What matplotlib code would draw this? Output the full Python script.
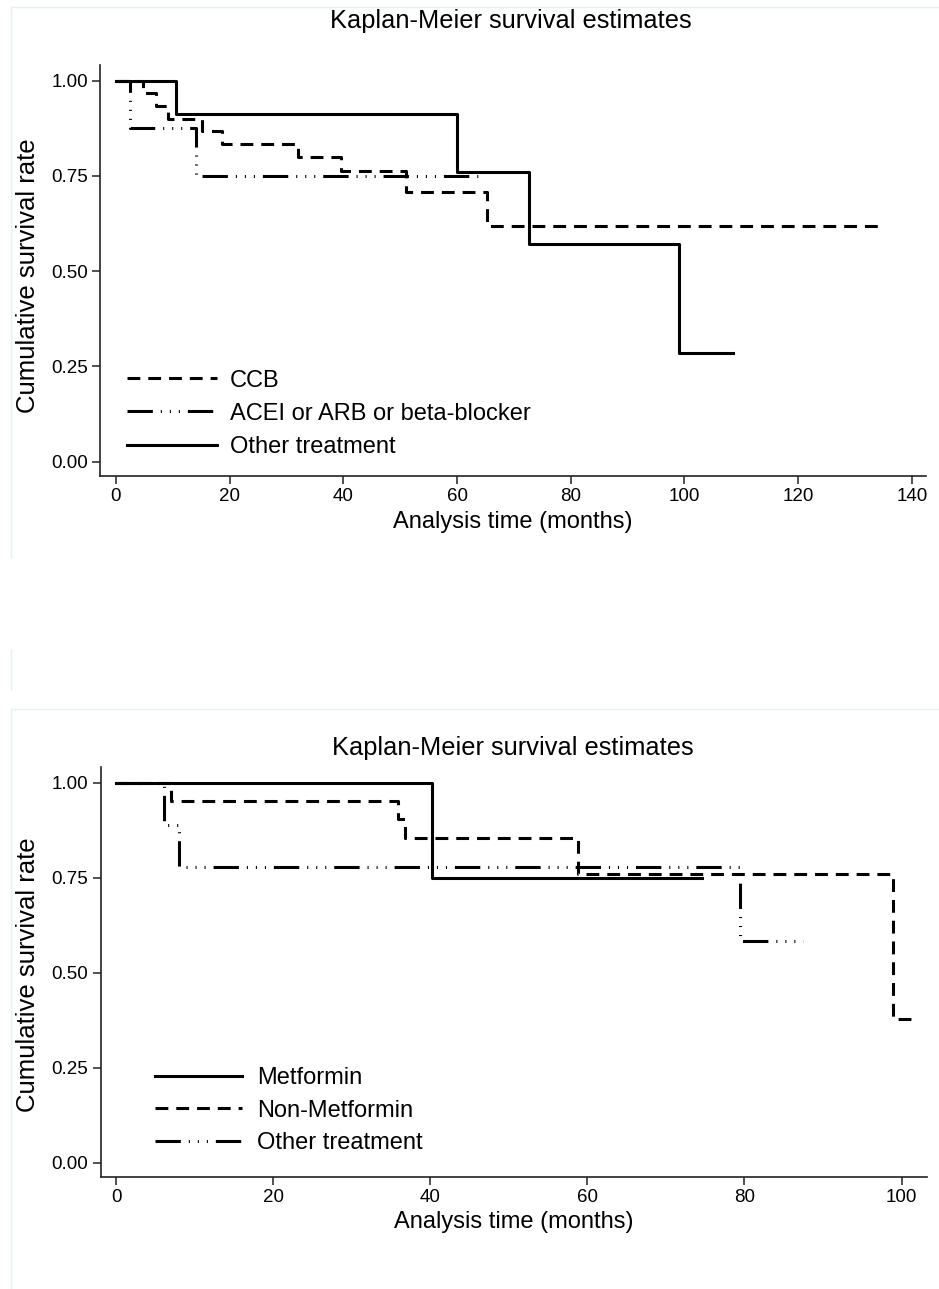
import matplotlib
matplotlib.use("Agg")
import matplotlib.pyplot as plt
from matplotlib.lines import Line2D

plt.rcParams['font.family'] = ['Liberation Sans', 'DejaVu Sans']

# ---------------- data ----------------
# Panel 1
ccb_time = [0, 4.8, 7.0, 9.2, 15.1, 18.7, 32.0, 39.6, 51.1, 65.3, 135.0]
ccb_surv = [1.0, 0.967, 0.933, 0.900, 0.867, 0.833, 0.800, 0.762, 0.707, 0.619, 0.619]
acei_time = [0, 2.5, 14.0, 64.6]
acei_surv = [1.0, 0.875, 0.750, 0.750]
oth1_time = [0, 10.6, 60.0, 72.6, 99.0, 108.5]
oth1_surv = [1.0, 0.913, 0.761, 0.571, 0.285, 0.285]
labels1 = ["CCB", "ACEI or ARB or beta-blocker", "Other treatment"]
xticks1 = [0, 20, 40, 60, 80, 100, 120, 140]

# Panel 2
met_time = [0, 40.2, 74.6]
met_surv = [1.0, 0.750, 0.750]
nonmet_time = [0, 7.0, 35.9, 36.8, 58.8, 98.9, 101.3]
nonmet_surv = [1.0, 0.952, 0.905, 0.854, 0.759, 0.379, 0.379]
oth2_time = [0, 6.1, 8.0, 79.4, 87.4]
oth2_surv = [1.0, 0.889, 0.778, 0.583, 0.583]
labels2 = ["Metformin", "Non-Metformin", "Other treatment"]
xticks2 = [0, 20, 40, 60, 80, 100]

yticks = [0.0, 0.25, 0.50, 0.75, 1.00]
ytick_labels = ["0.00", "0.25", "0.50", "0.75", "1.00"]
title = "Kaplan-Meier survival estimates"
xlabel = "Analysis time (months)"
ylabel = "Cumulative survival rate"

# ---------------- styles ----------------
W, H = 939, 1289
LW = 2.2
DASHED = (0, (4.2, 2.6))
LDDD = (0, (8.3, 2.6, 0.35, 2.6, 0.35, 2.6, 0.35, 2.6))
SOLID = '-'

fig = plt.figure(figsize=(W / 100, H / 100), dpi=100)
fig.patch.set_facecolor('white')


def fx(px):
    return px / W


def fy(py):
    return 1 - py / H


# faint panel frames
frame_col = '#e9f0f0'
fig.add_artist(Line2D([fx(11), fx(939)], [fy(7), fy(7)], color=frame_col, lw=1))
fig.add_artist(Line2D([fx(11), fx(11)], [fy(7), fy(557)], color=frame_col, lw=1))
fig.add_artist(Line2D([fx(11), fx(11)], [fy(650), fy(690)], color=frame_col, lw=1))
fig.add_artist(Line2D([fx(11), fx(939)], [fy(709), fy(709)], color=frame_col, lw=1))
fig.add_artist(Line2D([fx(11), fx(11)], [fy(709), fy(1289)], color=frame_col, lw=1))


def make_axes(left, right, top, bottom):
    return fig.add_axes([fx(left), fy(bottom), fx(right) - fx(left), (bottom - top) / H])


def style(ax, xlim, ylim, xticks):
    ax.set_xlim(*xlim)
    ax.set_ylim(*ylim)
    for s in ['top', 'right']:
        ax.spines[s].set_visible(False)
    for s in ['left', 'bottom']:
        ax.spines[s].set_linewidth(1.2)
        ax.spines[s].set_color('#222222')
    ax.set_xticks(xticks)
    ax.set_xticklabels([str(t) for t in xticks])
    ax.set_yticks(yticks)
    ax.set_yticklabels(ytick_labels)
    ax.tick_params(axis='both', direction='out', length=5.8, width=1.1,
                   color='#222222', labelsize=13.5, pad=3)
    ax.patch.set_alpha(0)


# ---------------- panel 1 ----------------
ax1 = make_axes(100, 926, 65, 475.5)
ax1.step(ccb_time, ccb_surv, where='post', color='black', lw=LW, linestyle=DASHED, label=labels1[0])
ax1.step(acei_time, acei_surv, where='post', color='black', lw=LW, linestyle=LDDD, label=labels1[1])
ax1.step(oth1_time, oth1_surv, where='post', color='black', lw=LW, linestyle=SOLID, label=labels1[2])
style(ax1, (-2.8, 142.5), (-0.036, 1.041), xticks1)
leg1 = ax1.legend(loc='upper left', bbox_to_anchor=(0.0327, 0.258), frameon=False,
                  fontsize=17, handlelength=3.81, handletextpad=0.55, labelspacing=0.47,
                  borderpad=0, borderaxespad=0)
ax1.set_xlabel(xlabel, fontsize=17)
ax1.xaxis.label.set_va('center')
ax1.xaxis.set_label_coords(0.5, (475.5 - 522) / 410.5)
ax1.set_ylabel(ylabel, fontsize=18.5)
ax1.yaxis.label.set_va('center')
ax1.yaxis.set_label_coords((28 - 100) / 826, (475.5 - 276) / 410.5)
fig.text(fx(511), fy(21), title, ha='center', va='center', fontsize=18.3)

# ---------------- panel 2 ----------------
ax2 = make_axes(100.7, 926.7, 767, 1176.7)
ax2.step(met_time, met_surv, where='post', color='black', lw=LW, linestyle=SOLID, label=labels2[0])
ax2.step(nonmet_time, nonmet_surv, where='post', color='black', lw=LW, linestyle=DASHED, label=labels2[1])
ax2.step(oth2_time, oth2_surv, where='post', color='black', lw=LW, linestyle=LDDD, label=labels2[2])
style(ax2, (-1.97, 103.2), (-0.037, 1.041), xticks2)
leg2 = ax2.legend(loc='upper left', bbox_to_anchor=(0.0657, 0.267), frameon=False,
                  fontsize=17, handlelength=3.69, handletextpad=0.64, labelspacing=0.44,
                  borderpad=0, borderaxespad=0)
ax2.set_xlabel(xlabel, fontsize=17)
ax2.xaxis.label.set_va('center')
ax2.xaxis.set_label_coords(0.5, (1176.7 - 1222) / 409.7)
ax2.set_ylabel(ylabel, fontsize=18.5)
ax2.yaxis.label.set_va('center')
ax2.yaxis.set_label_coords((28 - 100.7) / 826, (1176.7 - 975) / 409.7)
fig.text(fx(513), fy(748), title, ha='center', va='center', fontsize=18.3)

fig.savefig('out.png', dpi=100, facecolor='white')
